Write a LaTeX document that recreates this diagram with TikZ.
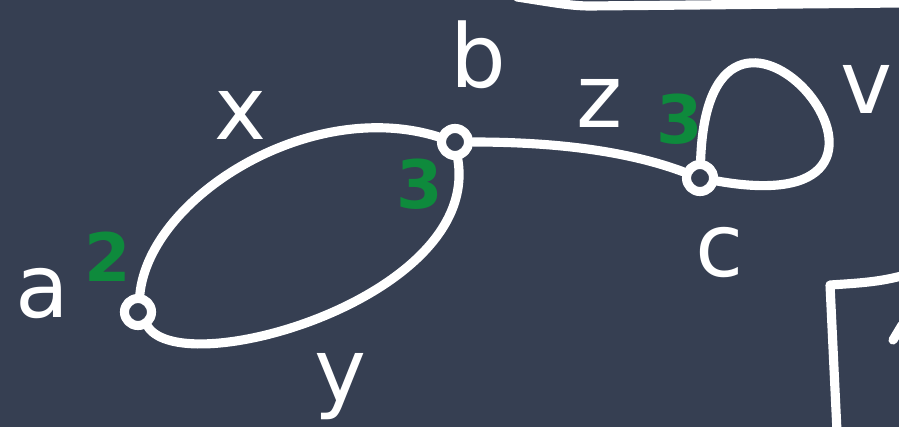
\documentclass[tikz,border=0pt]{standalone}
\usepackage{fontspec}
\setmainfont{DejaVu Sans}
\usetikzlibrary{positioning}
\definecolor{slate}{HTML}{363F52}
\definecolor{chalkgreen}{HTML}{0E8A3C}
\tikzset{
	vertex/.style={circle, draw=white, line width=2.6pt, inner sep=0pt, minimum size=2.7mm}
}
\tikzset{
	chalktext/.style={text=white, inner sep=0pt, font=\fontsize{25}{29}\selectfont}
}
\tikzset{
	weight/.style={text=chalkgreen, inner sep=0pt, font=\fontsize{19}{23}\selectfont\bfseries}
}

\begin{document}
\begin{tikzpicture}[line width=2.6pt, draw=white, line cap=round, line join=round]
      \useasboundingbox (0,0) rectangle (8.99,4.27);
      \fill[slate] (0,0) rectangle (8.99,4.27);
      % vertices
      \node[vertex] (a) at (1.38,1.15) {};
      \node[vertex] (b) at (4.55,2.85) {};
      \node[vertex] (c) at (7.00,2.49) {};
      % vertex names
      \node[chalktext] (la) at (0.42,1.33) {a};
      \node[chalktext] (lb) at (4.78,3.72) {b};
      \node[chalktext] (lc) at (7.20,1.74) {c};
      % edges
      \draw[white] (a) .. controls (1.5,2.3) and (3.1,3.3) .. (b);   % x
      \draw[white] (a) .. controls (1.85,0.45) and (4.8,1.3) .. (b);  % y
      \draw[white] (b) .. controls (5.6,2.85) and (6.3,2.75) .. (c);  % z
      \draw[white] (c) to[out=88, in=-10, out distance=2.5cm, in distance=2.6cm] (c); % v
      % edge names
      \node[chalktext] (lx) at (2.40,3.12) {x};
      \node[chalktext] (ly) at (3.40,0.40) {y};
      \node[chalktext] (lz) at (6.00,3.24) {z};
      \node[chalktext] (lv) at (8.66,3.38) {v};
      % degrees
      \node[weight] (da) at (1.08,1.70) {2};
      \node[weight] (db) at (4.20,2.43) {3};
      \node[weight] (dc) at (6.80,3.08) {3};
      % bits of the neighbouring sketches
      \draw[white] (5.17,4.30) .. controls (5.5,4.25) and (5.7,4.21) .. (5.90,4.21) -- (8.99,4.24);
      \draw[white] (8.37,-0.05) -- (8.30,1.42) .. controls (8.6,1.44) and (8.8,1.45) .. (9.05,1.52);
      \draw[white] (8.93,0.87) -- (9.02,1.02);
    \end{tikzpicture}
\end{document}
